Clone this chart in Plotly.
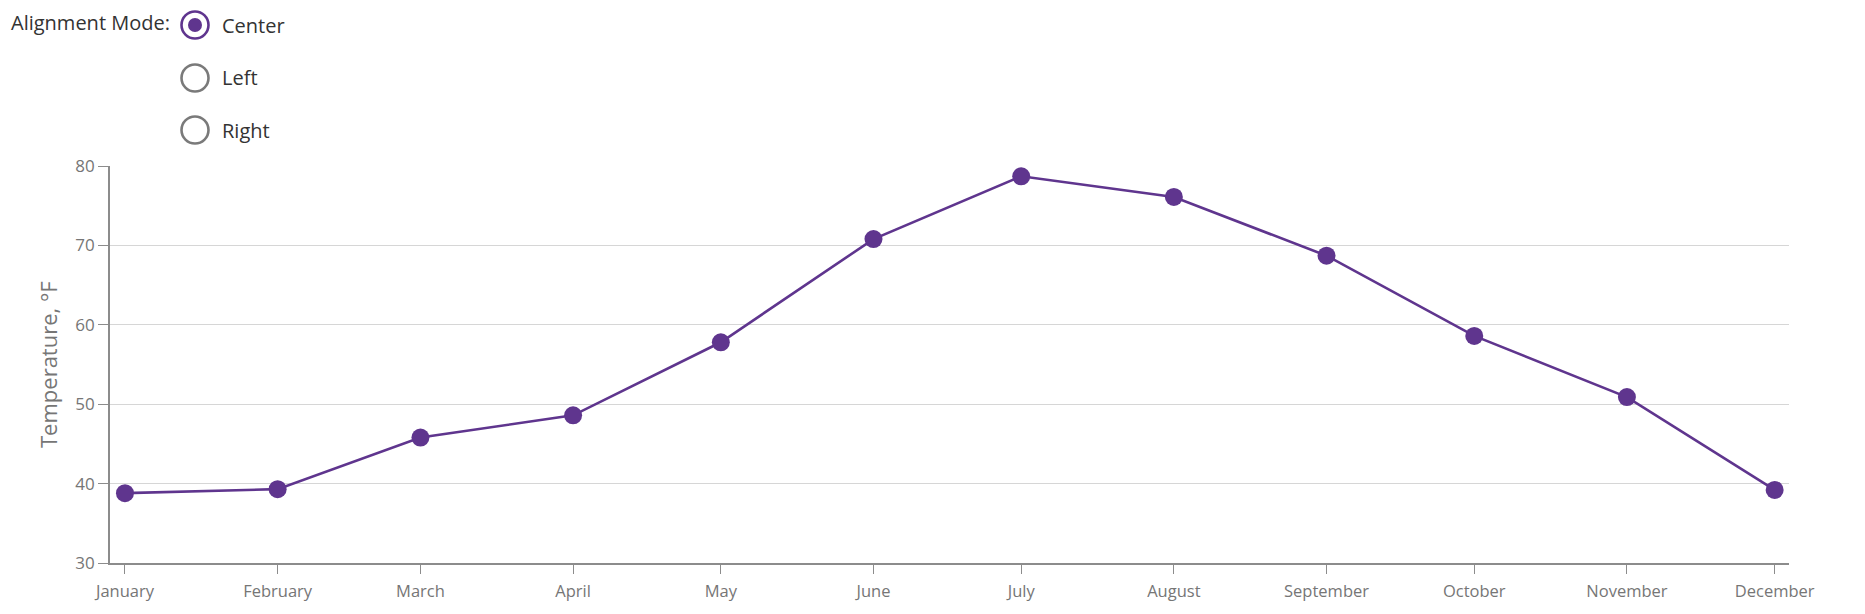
import plotly.graph_objects as go

# ---- data ----
months = ["January", "February", "March", "April", "May", "June",
          "July", "August", "September", "October", "November", "December"]
month_dates = ["2016-01-01", "2016-02-01", "2016-03-01", "2016-04-01", "2016-05-01", "2016-06-01",
               "2016-07-01", "2016-08-01", "2016-09-01", "2016-10-01", "2016-11-01", "2016-12-01"]
temperature = [38.8, 39.3, 45.8, 48.6, 57.8, 70.8, 78.7, 76.1, 68.7, 58.6, 50.9, 39.2]
y_ticks = [30, 40, 50, 60, 70, 80]
radio_options = ["Center", "Left", "Right"]
selected_option = "Center"

# ---- style ----
W, H = 1865, 614
L, R, T, B = 110, 1789, 166, 563
PURPLE = "#5f358e"
AXIS = "#8c8c8c"
TEXT = "#767676"
FONT = "Open Sans"


def px(x):
    return (x - L) / (R - L)


def py(y):
    return (B - y) / (B - T)


fig = go.Figure()
fig.add_trace(go.Scatter(
    x=month_dates, y=temperature, mode="lines+markers",
    line=dict(color=PURPLE, width=2.6),
    marker=dict(color=PURPLE, size=18, line=dict(width=0)),
    showlegend=False, hoverinfo="x+y",
))

shapes = []
annotations = []

# radio group
annotations.append(dict(text="Alignment Mode:", x=px(9), y=py(22), xref="paper", yref="paper",
                        xanchor="left", yanchor="middle", showarrow=False,
                        font=dict(family=FONT, size=20, color="#333333")))
radio_y = [25, 78, 130]
for opt, cy in zip(radio_options, radio_y):
    cx, r = 195, 13.5
    sel = opt == selected_option
    shapes.append(dict(type="circle", xref="paper", yref="paper",
                       x0=px(cx - r), x1=px(cx + r), y0=py(cy + r), y1=py(cy - r),
                       line=dict(color=PURPLE if sel else "#7a7a7a", width=2.6),
                       fillcolor="white"))
    if sel:
        ri = 7
        shapes.append(dict(type="circle", xref="paper", yref="paper",
                           x0=px(cx - ri), x1=px(cx + ri), y0=py(cy + ri), y1=py(cy - ri),
                           line=dict(width=0), fillcolor=PURPLE))
    annotations.append(dict(text=opt, x=px(220), y=py(cy), xref="paper", yref="paper",
                            xanchor="left", yanchor="middle", showarrow=False,
                            font=dict(family=FONT, size=20, color="#333333")))

# y-axis title
annotations.append(dict(text="Temperature, °F", x=px(48), y=py(364), xref="paper", yref="paper",
                        xanchor="center", yanchor="middle", textangle=-90, showarrow=False,
                        font=dict(family=FONT, size=22, color=TEXT)))

fig.update_layout(
    width=W, height=H,
    margin=dict(l=L, r=W - R, t=T, b=H - B, pad=0),
    paper_bgcolor="white", plot_bgcolor="white",
    font=dict(family=FONT, color=TEXT),
    shapes=shapes, annotations=annotations,
    xaxis=dict(
        type="date", range=["2015-12-28 23:00", "2016-12-03 22:00"],
        tickvals=month_dates, ticktext=months,
        showgrid=False, zeroline=False,
        showline=True, linecolor=AXIS, linewidth=1.6,
        ticks="outside", ticklen=9, tickwidth=1.3, tickcolor=AXIS,
        ticklabelstandoff=3,
        tickfont=dict(family=FONT, size=16.5, color=TEXT),
    ),
    yaxis=dict(
        range=[30, 80], tickvals=y_ticks,
        showgrid=True, gridcolor="#d6d6d6", gridwidth=1.3,
        zeroline=False,
        showline=True, linecolor=AXIS, linewidth=1.6,
        ticks="outside", ticklen=10, tickwidth=1.3, tickcolor=AXIS,
        tickfont=dict(family=FONT, size=17, color=TEXT),
    ),
)

fig.write_html("out.html")
